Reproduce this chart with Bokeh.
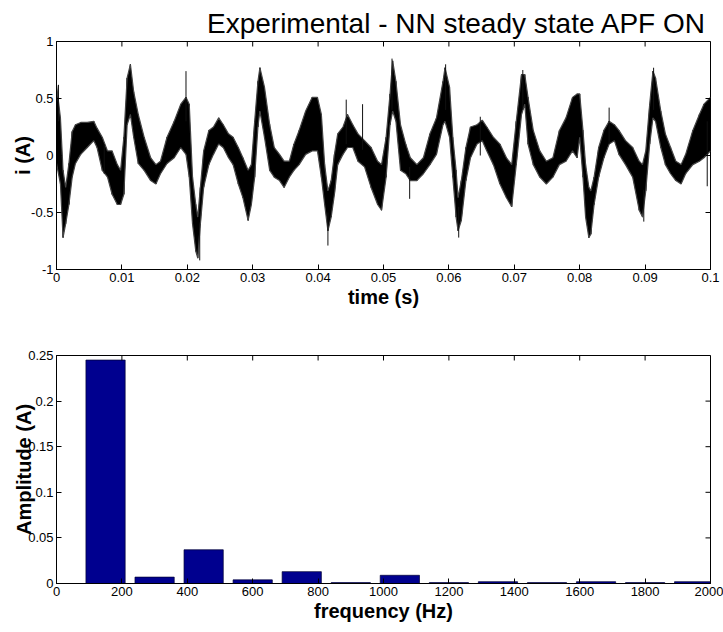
import numpy as np
from bokeh.plotting import figure
from bokeh.models import Range1d, FixedTicker, ColumnDataSource
from bokeh.layouts import column
from bokeh.embed import file_html
from bokeh.resources import INLINE

# ---------------- data ----------------
# current trace: time (ms) with upper / lower edge of the noisy band (A)
t_ms = [0.0, 0.6, 1.0, 1.4, 1.9, 2.4, 2.9, 3.7, 4.7, 5.7, 6.2, 7.0, 7.8, 8.5, 9.3, 9.8,
        10.3, 10.8, 11.3, 11.8, 12.5, 13.4, 14.4, 15.2, 15.9, 16.9, 18.0, 19.0,
        19.8, 20.3, 20.8, 21.3, 21.6, 22.0, 22.5, 23.3, 24.0, 24.8, 25.5, 26.3, 27.0,
        27.8, 28.5, 29.3, 29.8, 30.3, 30.8, 31.1, 31.8, 32.6, 33.3, 34.1, 34.8, 35.6,
        36.3, 37.1, 38.1, 39.1,
        39.9, 40.5, 41.0, 41.5, 42.0, 42.5, 43.0, 43.8, 44.5, 45.3, 46.1, 47.1, 48.1,
        49.1, 49.7, 50.4, 51.0, 51.4, 51.9, 52.6, 53.4, 54.1, 55.1, 56.1, 57.1, 58.1,
        59.1,
        59.4, 60.1, 60.6, 61.1, 61.4, 61.9, 62.6, 63.3, 64.3, 65.1, 65.8, 66.8, 67.8,
        68.8, 69.6, 70.3, 71.1, 71.6, 72.1, 72.9, 73.9, 74.9, 75.9, 76.9, 77.9, 78.9,
        79.6, 80.0, 80.5, 80.9, 81.4, 81.7, 82.2, 82.9, 83.7, 84.5, 85.3, 86.0, 87.0,
        88.1, 89.1, 89.6, 90.1, 90.7, 91.2, 91.6, 92.4, 93.1, 93.9, 94.7, 95.5, 96.2,
        97.3, 98.3, 99.0, 100.0]
i_hi = [0.62, 0.33, -0.13, -0.28, -0.07, 0.21, 0.27, 0.29, 0.29, 0.30, 0.24, 0.16, 0.04,
        0.04, -0.08, -0.13, 0.16, 0.68, 0.80, 0.56, 0.36, 0.16, -0.02, -0.08, -0.05, 0.16,
        0.30, 0.45,
        0.51, 0.45, -0.19, -0.43, -0.54, -0.28, 0.04, 0.22, 0.25, 0.33, 0.27, 0.19, 0.16,
        0.07, -0.02, -0.13, -0.08, 0.30, 0.65, 0.77, 0.60, 0.27, 0.07, 0.01, -0.05, -0.05,
        0.10, 0.22, 0.39, 0.51,
        0.51, 0.36, -0.08, -0.31, -0.22, 0.01, 0.19, 0.25, 0.36, 0.27, 0.19, 0.13, 0.07,
        -0.05, -0.08, 0.16, 0.54, 0.83, 0.65, 0.27, 0.10, -0.02, -0.08, -0.02, 0.19, 0.33,
        0.65,
        0.77, 0.60, 0.16, -0.13, -0.37, -0.22, 0.07, 0.25, 0.27, 0.31, 0.25, 0.16, 0.10,
        -0.02, -0.08, 0.30, 0.71, 0.71, 0.51, 0.22, 0.04, -0.05, -0.02, 0.22, 0.33, 0.51,
        0.54, 0.54, 0.22, -0.08, -0.28, -0.31, -0.19, 0.07, 0.22, 0.30, 0.27, 0.22, 0.13,
        0.07, -0.05, -0.08, 0.04, 0.45, 0.74, 0.68, 0.39, 0.19, 0.07, -0.05, -0.08, 0.01,
        0.22, 0.36, 0.45, 0.51]
i_lo = [-0.07, -0.25, -0.72, -0.60, -0.43, -0.19, -0.07, 0.01, 0.07, 0.13, 0.07, -0.13,
        -0.19, -0.34, -0.43, -0.43, -0.34, 0.27, 0.36, 0.16, -0.07, -0.13, -0.22, -0.25,
        -0.16, -0.07, -0.02, 0.07,
        0.01, -0.19, -0.60, -0.84, -0.90, -0.60, -0.28, -0.08, 0.01, 0.10, 0.07, -0.02,
        -0.08, -0.25, -0.37, -0.57, -0.43, -0.19, 0.25, 0.39, 0.16, -0.13, -0.19, -0.22,
        -0.28, -0.19, -0.13, -0.08, 0.01, 0.04,
        0.04, -0.19, -0.43, -0.66, -0.54, -0.34, -0.08, 0.01, 0.07, 0.07, -0.05, -0.10,
        -0.28, -0.43, -0.48, -0.19, 0.27, 0.39, 0.30, -0.13, -0.16, -0.22, -0.22, -0.16,
        -0.08, 0.01, 0.27,
        0.30, 0.16, -0.19, -0.54, -0.66, -0.57, -0.22, -0.02, 0.10, 0.13, 0.04, -0.08,
        -0.25, -0.37, -0.45, -0.08, 0.36, 0.45, 0.10, -0.08, -0.19, -0.25, -0.19, -0.08,
        -0.05, 0.04,
        -0.02, 0.16, -0.19, -0.54, -0.72, -0.69, -0.43, -0.19, -0.02, 0.10, 0.13, 0.01,
        -0.08, -0.19, -0.48, -0.54, -0.31, 0.10, 0.33, 0.30, 0.07, -0.08, -0.16, -0.22,
        -0.25, -0.16, -0.08, -0.05, -0.02, 0.04]

# isolated noise spikes sticking out of the band (time ms, low A, high A)
spike_t_ms = [0.3, 7.3, 19.8, 21.9, 41.5, 44.3, 46.8, 51.3, 54.0, 59.5, 61.5, 64.8,
              71.3, 84.5, 89.8, 91.3, 99.5]
spike_lo = [0.30, -0.16, 0.30, -0.92, -0.79, 0.10, 0.05, 0.40, -0.38, 0.40, -0.72, 0.00,
            0.40, 0.10, -0.58, 0.40, -0.27]
spike_hi = [0.62, 0.10, 0.74, -0.60, -0.50, 0.49, 0.45, 0.85, -0.10, 0.80, -0.45, 0.34,
            0.75, 0.42, -0.30, 0.77, 0.30]

# spectrum
freq_hz = [150, 300, 450, 600, 750, 900, 1050, 1200, 1350, 1500, 1650, 1800, 1950]
amp_a = [0.245, 0.007, 0.037, 0.004, 0.013, 0.001, 0.009, 0.001, 0.002, 0.001, 0.002,
         0.001, 0.002]
bar_width_hz = 120

# ticks
time_ticks = [0, 0.01, 0.02, 0.03, 0.04, 0.05, 0.06, 0.07, 0.08, 0.09, 0.1]
time_tick_labels = ["0", "0.01", "0.02", "0.03", "0.04", "0.05", "0.06", "0.07", "0.08",
                    "0.09", "0.1"]
i_ticks = [-1, -0.5, 0, 0.5, 1]
i_tick_labels = ["-1", "-0.5", "0", "0.5", "1"]
freq_ticks = [0, 200, 400, 600, 800, 1000, 1200, 1400, 1600, 1800, 2000]
freq_tick_labels = ["0", "200", "400", "600", "800", "1000", "1200", "1400", "1600",
                    "1800", "2000"]
amp_ticks = [0, 0.05, 0.1, 0.15, 0.2, 0.25]
amp_tick_labels = ["0", "0.05", "0.1", "0.15", "0.2", "0.25"]

FONT = "Liberation Sans"
W = 723
TICK_PX = 5


def style_axes(p, xticks, xlabels, yticks, ylabels, xlab, ylab, ylab_standoff,
               frame_w, frame_h):
    for ax, ticks, labels in ((p.xaxis[0], xticks, xlabels), (p.yaxis[0], yticks, ylabels)):
        ax.ticker = FixedTicker(ticks=ticks)
        ax.major_label_overrides = {tk: lb for tk, lb in zip(ticks, labels)}
        ax.major_label_text_font = FONT
        ax.major_label_text_font_size = "13px"
        ax.major_label_text_color = "black"
        ax.major_tick_in = TICK_PX
        ax.major_tick_out = 0
        ax.minor_tick_line_color = None
        ax.axis_line_color = "black"
        ax.major_tick_line_color = "black"
        ax.axis_label_text_font = FONT
        ax.axis_label_text_font_style = "bold"
        ax.axis_label_text_font_size = "20px"
        ax.axis_label_text_color = "black"
        ax.major_label_standoff = 3
    p.xaxis[0].axis_label = xlab
    p.yaxis[0].axis_label = ylab
    p.xaxis[0].axis_label_standoff = 1
    p.yaxis[0].axis_label_standoff = ylab_standoff
    p.grid.visible = False
    p.outline_line_color = "black"
    # mirrored inward ticks on the top and right edges of the box
    x0, x1 = p.x_range.start, p.x_range.end
    y0, y1 = p.y_range.start, p.y_range.end
    dy = (y1 - y0) * TICK_PX / frame_h
    dx = (x1 - x0) * TICK_PX / frame_w
    p.segment(x0=xticks, y0=[y1] * len(xticks), x1=xticks, y1=[y1 - dy] * len(xticks),
              line_color="black", line_width=1)
    p.segment(x0=[x1] * len(yticks), y0=yticks, x1=[x1 - dx] * len(yticks), y1=yticks,
              line_color="black", line_width=1)


# ---------------- top: time signal ----------------
p1 = figure(width=W, height=315, output_backend="svg", toolbar_location=None,
            x_range=Range1d(0, 0.1), y_range=Range1d(-1, 1),
            min_border_left=56, min_border_right=13, min_border_top=41, min_border_bottom=46)
p1.title.text = "Experimental - NN steady state APF ON"
p1.title.text_font = FONT
p1.title.text_font_size = "28px"
p1.title.text_font_style = "normal"
p1.title.text_color = "black"
p1.title.align = "right"
p1.title.offset = 4
p1.title.standoff = 6

t_s = np.array(t_ms) / 1000.0
hi = np.array(i_hi)
lo = np.array(i_lo)
band = ColumnDataSource(dict(t=t_s, hi=hi, lo=lo))
p1.varea(x="t", y1="lo", y2="hi", source=band, fill_color="black", fill_alpha=1.0)
# zig-zag through the band edges to give the noisy texture
zx = np.repeat(t_s, 2)
zy = np.empty(2 * len(t_s))
zy[0::2] = hi
zy[1::2] = lo
p1.line(zx, zy, line_color="black", line_width=1)
p1.line(t_s, hi, line_color="#444444", line_width=1.2)
p1.line(t_s, lo, line_color="#444444", line_width=1.2)
sp_t = np.array(spike_t_ms) / 1000.0
p1.segment(x0=sp_t, y0=spike_lo, x1=sp_t, y1=spike_hi, line_color="#111111", line_width=1)
style_axes(p1, time_ticks, time_tick_labels, i_ticks, i_tick_labels, "time (s)", "i (A)",
           -6, 654, 228)

# ---------------- bottom: spectrum ----------------
p2 = figure(width=W, height=317, output_backend="svg", toolbar_location=None,
            x_range=Range1d(0, 2000), y_range=Range1d(0, 0.25),
            min_border_left=55, min_border_right=13, min_border_top=40, min_border_bottom=49)
p2.vbar(x=freq_hz, top=amp_a, width=bar_width_hz, bottom=0,
        fill_color="#00008F", line_color="#000033", line_width=0.7)
style_axes(p2, freq_ticks, freq_tick_labels, amp_ticks, amp_tick_labels,
           "frequency (Hz)", "Amplitude (A)", -10, 655, 228)

layout = column(p1, p2, spacing=0)
open("out.html", "w").write(file_html(layout, INLINE))
